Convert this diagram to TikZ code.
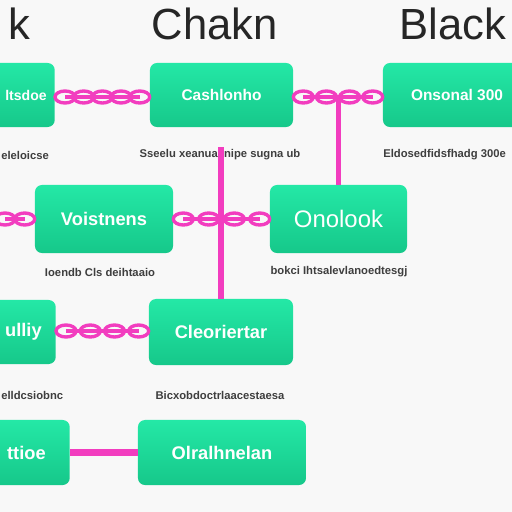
\documentclass[tikz,border=0pt]{standalone}
\usepackage{fontspec}
\setmainfont{Liberation Sans}
\usetikzlibrary{calc}
\definecolor{mint}{HTML}{24E8A6}
\definecolor{mintdark}{HTML}{16C88A}
\definecolor{linkpink}{HTML}{F23DBF}
\definecolor{capgray}{HTML}{3E3E3E}
\definecolor{paper}{HTML}{F8F8F8}

% chain of rings between two points
\newcommand{\chainlinks}[3]{%
  \draw[wire] (#1) -- (#2);
  \foreach \i [evaluate=\i as \t using (\i-1)/(#3-1)] in {1,...,#3}
    \draw[ring] ($(#1)!\t!(#2)$) ellipse (10 and 6);
}

\begin{document}
\begin{tikzpicture}[x=0.025cm,y=-0.025cm,
  box/.style={rounded corners=5pt, top color=mint, bottom color=mintdark, draw=none,
    text=white, font=\bfseries\fontsize{13}{15}\selectfont, minimum height=1.6cm},
  small/.style={font=\bfseries\fontsize{11}{13}\selectfont},
  edgebox/.style={box, anchor=east, text width=2cm, align=right},
  captext/.style={text=capgray, font=\bfseries\fontsize{8}{9}\selectfont, inner sep=0pt},
  ttl/.style={text=black!85, font=\fontsize{31}{34}\selectfont, inner sep=0pt},
  wire/.style={linkpink, line width=3pt},
  ring/.style={linkpink, line width=2.4pt},
  pole/.style={linkpink, line width=3.6pt}]
  \useasboundingbox (0,0) rectangle (512,512);
  \clip (0,0) rectangle (512,512);
  \fill[paper] (0,0) rectangle (512,512);

  % titles
  \node[ttl, anchor=east] (t1) at (31,24) {k};
  \node[ttl] (t2) at (215,24) {Chakn};
  \node[ttl] (t3) at (453,24) {Black};

  % boxes
  \node[edgebox, font=\bfseries\fontsize{10}{12}\selectfont, inner xsep=0.2cm] (a) at (55,95) {ltsdoe};
  \node[box, small, minimum width=3.575cm] (b) at (221.5,95) {Cashlonho};
  \node[box, small, minimum width=3.7cm] (c) at (457,95) {Onsonal 300};
  \node[box, minimum width=3.45cm, minimum height=1.7cm] (d) at (104,219) {Voistnens};
  \node[box, minimum width=3.425cm, minimum height=1.7cm, font=\fontsize{17}{19}\selectfont] (e) at (338.5,219) {Onolook};
  \node[edgebox, inner xsep=0.35cm] (f) at (56,332) {ulliy};
  \node[box, minimum width=3.6cm, minimum height=1.65cm] (g) at (221,332) {Cleoriertar};
  \node[edgebox, inner xsep=0.6cm, minimum height=1.625cm] (h) at (70,452.5) {ttioe};
  \node[box, minimum width=4.2cm, minimum height=1.625cm] (i) at (222,452.5) {Olralhnelan};

  % captions
  \node[captext, anchor=west] (ca) at (1,155) {eleloicse};
  \node[captext] (cb) at (220,155) {Sseelu xeanual nipe sugna ub};
  \node[captext, anchor=west] (cc) at (383,155) {Eldosedfidsfhadg 300e};
  \node[captext] (cd) at (100,272) {Ioendb Cls deihtaaio};
  \node[captext] (ce) at (339,272) {bokci Ihtsalevlanoedtesgj};
  \node[captext, anchor=west] (cf) at (1,395) {elldcsiobnc};
  \node[captext] (cg) at (220,395) {Bicxobdoctrlaacestaesa};

  % connectors
  \coordinate (dl) at (-5,219);
  \coordinate (gtop) at (221,147);
  \chainlinks{$(a.east)+(10,2)$}{$(b.west)+(-10,2)$}{5}
  \chainlinks{$(b.east)+(10,2)$}{$(c.west)+(-10,2)$}{4}
  \chainlinks{$(dl)+(10,0)$}{$(d.west)+(-10,0)$}{2}
  \chainlinks{$(d.east)+(10,0)$}{$(e.west)+(-10,0)$}{4}
  \chainlinks{$(f.east)+(10,-1)$}{$(g.west)+(-10,-1)$}{4}
  \draw[pole] (e.north) -- ($(e.north |- b.east)+(0,2)$);
  \draw[pole] (gtop) -- (g.north);
  \draw[linkpink, line width=5pt] (h.east) -- (i.west);
\end{tikzpicture}
\end{document}
